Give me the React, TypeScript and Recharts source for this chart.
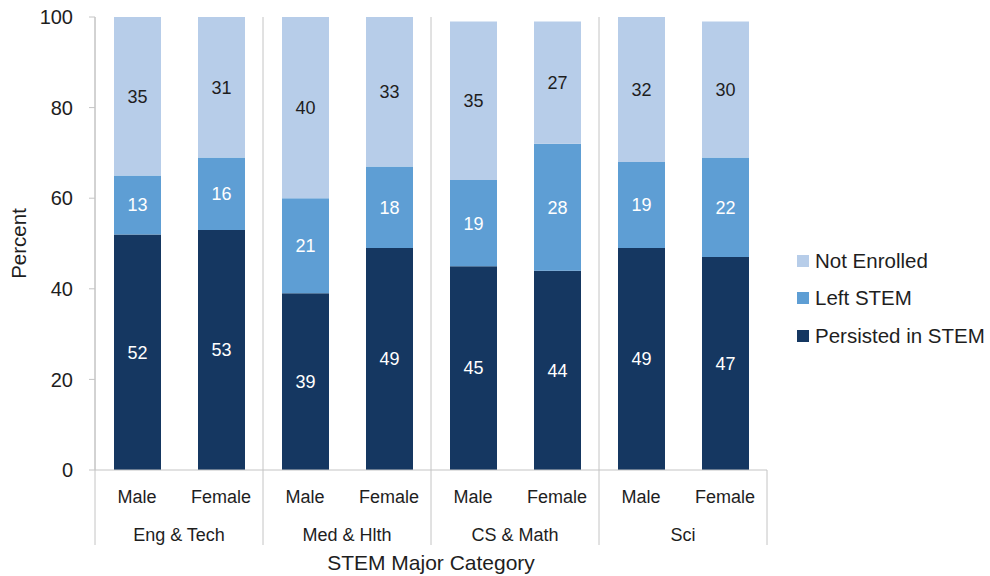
import React from 'react';
import { BarChart, Bar, XAxis, YAxis, Legend, LabelList } from 'recharts';

// Major groups, and the two bars (by gender) within each group
const groups = ['Eng & Tech', 'Med & Hlth', 'CS & Math', 'Sci'];
const genders = ['Male', 'Female'];

// Percent of students per outcome, ordered group by group, Male then Female
const persisted = [52, 53, 39, 49, 45, 44, 49, 47];
const leftStem = [13, 16, 21, 18, 19, 28, 19, 22];
const notEnrolled = [35, 31, 40, 33, 35, 27, 32, 30];

const yTicks = [0, 20, 40, 60, 80, 100];

// Legend rows, top to bottom
const legendOrder = ['Not Enrolled', 'Left STEM', 'Persisted in STEM'];

const COLORS = {
  persisted: '#153761',
  left: '#5e9ed4',
  notEnrolled: '#b7cde9',
};

const GRID = '#c4c4c4';
const TEXT = '#1e1e1e';
const FONT = '"Liberation Sans", Arial, Helvetica, sans-serif';

const W = 990;
const H = 576;
const PLOT_TOP = 17;
const PLOT_BOTTOM = 470;
const SEP_BOTTOM = 545;

const data = persisted.map((p, i) => {
  const group = groups[Math.floor(i / genders.length)];
  const gender = genders[i % genders.length];
  return {
    id: `${group}|${gender}`,
    group,
    gender,
    persisted: p,
    left: leftStem[i],
    notEnrolled: notEnrolled[i],
  };
});

// Group label under each pair of bars, plus the divider lines between groups
const GroupTick = (props: any) => {
  const { x, y, payload, index } = props;
  const half = payload && payload.offset ? payload.offset : 84;
  const left = x - half;
  const right = x + half;
  return (
    <g>
      <line x1={left} x2={left} y1={PLOT_TOP} y2={SEP_BOTTOM} stroke={GRID} strokeWidth={1} />
      {index === groups.length - 1 && (
        <line x1={right} x2={right} y1={PLOT_BOTTOM} y2={SEP_BOTTOM} stroke={GRID} strokeWidth={1} />
      )}
      <text x={x} y={y} dy="0.71em" textAnchor="middle" fontSize={18} fill={TEXT}>
        {payload.value}
      </text>
    </g>
  );
};

const LegendContent = (props: any) => {
  const payload: any[] = props.payload || [];
  const items = legendOrder
    .map((name) => payload.find((p: any) => p.value === name))
    .filter(Boolean);
  return (
    <div style={{ fontFamily: FONT }}>
      {items.map((it: any) => (
        <div
          key={it.value}
          style={{ display: 'flex', alignItems: 'center', height: 37.5 }}
        >
          <span
            style={{
              display: 'inline-block',
              width: 12,
              height: 12,
              background: it.color,
              marginRight: 6,
            }}
          />
          <span style={{ fontSize: 20.5, color: TEXT, whiteSpace: 'nowrap' }}>{it.value}</span>
        </div>
      ))}
    </div>
  );
};

export default function App() {
  return (
    <div style={{ position: 'absolute', left: 0, top: 0, width: W, height: H, fontFamily: FONT, background: '#fff' }}>
      <BarChart
        width={W}
        height={H}
        data={data}
        margin={{ top: PLOT_TOP, right: 223, left: 0, bottom: 0 }}
      >
        <XAxis
          xAxisId="gender"
          dataKey="id"
          tickFormatter={(v: string) => v.split('|')[1]}
          axisLine={{ stroke: GRID }}
          tickLine={false}
          tickSize={6}
          tickMargin={14}
          height={38}
          interval={0}
          tick={{ fontSize: 18, fill: TEXT }}
        />
        <XAxis
          xAxisId="group"
          dataKey="group"
          allowDuplicatedCategory={false}
          axisLine={false}
          tickLine={false}
          tickSize={0}
          tickMargin={20}
          height={68}
          interval={0}
          tick={<GroupTick />}
          label={{
            value: 'STEM Major Category',
            position: 'insideBottom',
            offset: 6,
            fontSize: 21,
            fill: TEXT,
          }}
        />
        <YAxis
          domain={[0, 100]}
          ticks={yTicks}
          width={95}
          axisLine={{ stroke: GRID }}
          tickLine={{ stroke: GRID }}
          tickSize={6}
          tickMargin={16}
          tick={{ fontSize: 20, fill: TEXT }}
          label={{
            value: 'Percent',
            angle: -90,
            position: 'insideLeft',
            offset: 19,
            fontSize: 20.5,
            fill: TEXT,
            style: { textAnchor: 'middle' },
          }}
        />
        <Legend
          layout="vertical"
          align="center"
          verticalAlign="middle"
          content={<LegendContent />}
          wrapperStyle={{ left: 797, top: 242, width: 193, height: 115 }}
        />
        <Bar
          xAxisId="gender"
          dataKey="persisted"
          name="Persisted in STEM"
          stackId="s"
          fill={COLORS.persisted}
          barSize={47}
          isAnimationActive={false}
        >
          <LabelList dataKey="persisted" position="center" fill="#ffffff" fontSize={18} />
        </Bar>
        <Bar
          xAxisId="gender"
          dataKey="left"
          name="Left STEM"
          stackId="s"
          fill={COLORS.left}
          barSize={47}
          isAnimationActive={false}
        >
          <LabelList dataKey="left" position="center" fill="#ffffff" fontSize={18} />
        </Bar>
        <Bar
          xAxisId="gender"
          dataKey="notEnrolled"
          name="Not Enrolled"
          stackId="s"
          fill={COLORS.notEnrolled}
          barSize={47}
          isAnimationActive={false}
        >
          <LabelList dataKey="notEnrolled" position="center" fill={TEXT} fontSize={18} />
        </Bar>
      </BarChart>
    </div>
  );
}
